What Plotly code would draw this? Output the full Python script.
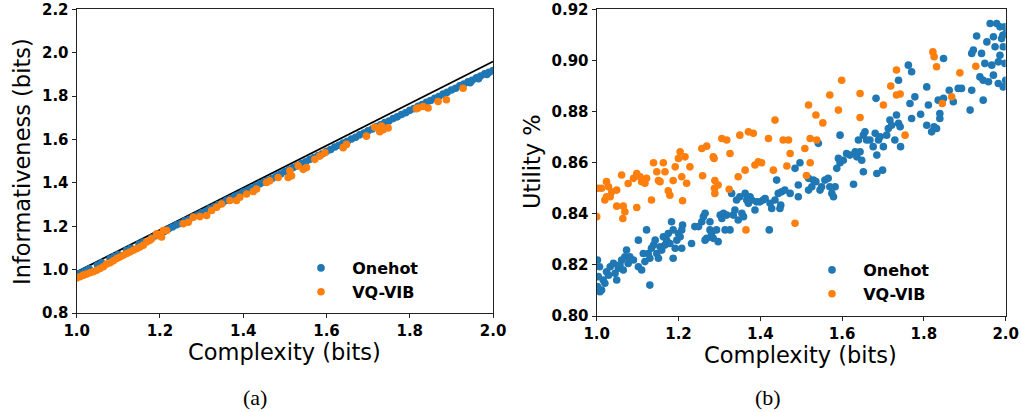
import plotly.graph_objects as go

# ---------------- data: panel (a) ----------------
ref_line_x = [1.0, 2.0]
ref_line_y = [0.99, 1.96]

a_onehot_x = [1.00, 1.01, 1.02, 1.03, 1.05, 1.06, 1.08, 1.09, 1.10, 1.12, 1.13, 1.15, 1.16, 1.18,
              1.19, 1.21, 1.22, 1.23, 1.24, 1.25, 1.26, 1.27, 1.28, 1.29, 1.30, 1.31, 1.32, 1.33,
              1.34, 1.35, 1.36, 1.37, 1.38, 1.39, 1.40, 1.41, 1.42, 1.43, 1.44, 1.45, 1.46, 1.47,
              1.48, 1.49, 1.50, 1.51, 1.52, 1.53, 1.54, 1.55, 1.56, 1.57, 1.58, 1.59, 1.60, 1.61,
              1.62, 1.63, 1.64, 1.65, 1.66, 1.67, 1.68, 1.69, 1.70, 1.71, 1.72, 1.73, 1.74, 1.75,
              1.76, 1.77, 1.78, 1.79, 1.80, 1.81, 1.82, 1.83, 1.84, 1.85, 1.86, 1.87, 1.88, 1.89,
              1.90, 1.91, 1.92, 1.93, 1.94, 1.95, 1.96, 1.97, 1.98, 1.99, 2.00, 1.985, 1.965, 1.945]
a_onehot_y = [0.975, 0.985, 0.994, 1.004, 1.022, 1.032, 1.051, 1.061, 1.070, 1.090, 1.099, 1.118, 1.128, 1.147,
              1.157, 1.176, 1.188, 1.197, 1.207, 1.214, 1.226, 1.233, 1.244, 1.252, 1.263, 1.270, 1.282, 1.290,
              1.301, 1.309, 1.320, 1.328, 1.339, 1.347, 1.358, 1.366, 1.377, 1.385, 1.396, 1.404, 1.414, 1.422,
              1.433, 1.441, 1.453, 1.461, 1.471, 1.479, 1.490, 1.498, 1.509, 1.517, 1.527, 1.535, 1.546, 1.554,
              1.566, 1.574, 1.584, 1.592, 1.603, 1.611, 1.622, 1.630, 1.641, 1.649, 1.660, 1.668, 1.679, 1.686,
              1.697, 1.705, 1.716, 1.724, 1.735, 1.743, 1.754, 1.762, 1.772, 1.780, 1.791, 1.799, 1.810, 1.818,
              1.829, 1.837, 1.848, 1.856, 1.866, 1.874, 1.885, 1.893, 1.904, 1.910, 1.918, 1.900, 1.881, 1.862]

a_vqvib_x = [1.000, 1.008, 1.016, 1.024, 1.032, 1.040, 1.048, 1.056, 1.064, 1.072, 1.080, 1.088, 1.096,
             1.104, 1.112, 1.120, 1.128, 1.136, 1.144, 1.152, 1.160, 1.168, 1.176, 1.180, 1.192, 1.196,
             1.204, 1.208, 1.216, 1.256, 1.268, 1.280, 1.296, 1.312, 1.324, 1.336, 1.348, 1.368, 1.384,
             1.392, 1.408, 1.424, 1.432, 1.456, 1.464, 1.484, 1.508, 1.512, 1.516, 1.532, 1.544, 1.552,
             1.572, 1.584, 1.596, 1.640, 1.648, 1.696, 1.716, 1.728, 1.732, 1.736, 1.748, 1.816, 1.820,
             1.832, 1.844, 1.868, 1.888, 1.928]
a_vqvib_y = [0.962, 0.968, 0.975, 0.980, 0.986, 0.991, 0.998, 1.006, 1.014, 1.026, 1.032, 1.041, 1.052,
             1.059, 1.067, 1.075, 1.082, 1.090, 1.097, 1.105, 1.113, 1.128, 1.136, 1.143, 1.166, 1.158,
             1.151, 1.181, 1.181, 1.212, 1.219, 1.242, 1.245, 1.250, 1.273, 1.288, 1.303, 1.319, 1.319,
             1.334, 1.349, 1.361, 1.372, 1.402, 1.410, 1.425, 1.425, 1.456, 1.433, 1.479, 1.463, 1.471,
             1.509, 1.524, 1.540, 1.563, 1.578, 1.616, 1.657, 1.636, 1.662, 1.646, 1.654, 1.742, 1.746,
             1.753, 1.746, 1.776, 1.784, 1.837]

# ---------------- data: panel (b) ----------------
b_onehot_x = [1.002, 1.007, 1.004, 1.008, 1.012, 1.002, 1.016, 1.020, 1.024, 1.029, 1.033, 1.041, 1.045,
              1.049, 1.053, 1.057, 1.061, 1.065, 1.069, 1.073, 1.077, 1.081, 1.090, 1.102, 1.102, 1.110,
              1.114, 1.118, 1.122, 1.126, 1.130, 1.134, 1.139, 1.143, 1.147, 1.151, 1.155, 1.159, 1.163,
              1.167, 1.171, 1.175, 1.179, 1.183, 1.187, 1.187, 1.192, 1.196, 1.200, 1.204, 1.208, 1.208,
              1.210, 1.130, 1.232, 1.240, 1.249, 1.257, 1.261, 1.265, 1.265, 1.269, 1.277, 1.277, 1.281,
              1.285, 1.293, 1.297, 1.302, 1.306, 1.310, 1.314, 1.318, 1.326, 1.330, 1.334, 1.338, 1.342,
              1.346, 1.350, 1.355, 1.359, 1.363, 1.367, 1.371, 1.375, 1.379, 1.387, 1.391, 1.399, 1.407,
              1.412, 1.422, 1.424, 1.428, 1.436, 1.440, 1.444, 1.448, 1.450, 1.452, 1.460, 1.473, 1.485,
              1.493, 1.493, 1.497, 1.518, 1.518, 1.526, 1.530, 1.536, 1.542, 1.546, 1.550, 1.558, 1.566,
              1.570, 1.575, 1.579, 1.583, 1.587, 1.591, 1.595, 1.595, 1.603, 1.611, 1.619, 1.628, 1.632,
              1.636, 1.640, 1.644, 1.648, 1.652, 1.652, 1.656, 1.660, 1.668, 1.676, 1.681, 1.683, 1.685,
              1.685, 1.689, 1.693, 1.699, 1.701, 1.709, 1.713, 1.717, 1.721, 1.729, 1.733, 1.738, 1.738,
              1.742, 1.743, 1.762, 1.770, 1.766, 1.770, 1.778, 1.792, 1.807, 1.807, 1.811, 1.819, 1.825,
              1.831, 1.835, 1.839, 1.839, 1.848, 1.848, 1.862, 1.872, 1.884, 1.892, 1.913, 1.917, 1.921,
              1.917, 1.929, 1.937, 1.941, 1.945, 1.945, 1.949, 1.954, 1.958, 1.962, 1.966, 1.970, 1.970,
              1.974, 1.978, 1.982, 1.986, 1.982, 1.990, 1.993, 1.994, 1.994, 1.998, 1.998, 2.000, 2.000,
              1.986]
b_onehot_y = [0.8219, 0.8193, 0.8154, 0.8095, 0.8102, 0.8115, 0.8141, 0.8128, 0.8173, 0.8160, 0.8193, 0.8206, 0.8167,
              0.8141, 0.8187, 0.8200, 0.8219, 0.8180, 0.8232, 0.8258, 0.8206, 0.8232, 0.8219, 0.8297, 0.8193, 0.8180,
              0.8245, 0.8213, 0.8337, 0.8245, 0.8226, 0.8265, 0.8278, 0.8297, 0.8245, 0.8226, 0.8271, 0.8258, 0.8310,
              0.8278, 0.8297, 0.8323, 0.8284, 0.8369, 0.8226, 0.8337, 0.8265, 0.8297, 0.8323, 0.8310, 0.8337, 0.8265,
              0.8356, 0.8121, 0.8284, 0.8350, 0.8350, 0.8369, 0.8389, 0.8402, 0.8297, 0.8304, 0.8369, 0.8337, 0.8323,
              0.8304, 0.8337, 0.8291, 0.8395, 0.8382, 0.8402, 0.8337, 0.8395, 0.8337, 0.8480, 0.8395, 0.8415, 0.8454,
              0.8376, 0.8467, 0.8402, 0.8389, 0.8480, 0.8454, 0.8441, 0.8467, 0.8454, 0.8415, 0.8447, 0.8447, 0.8454,
              0.8460, 0.8337, 0.8441, 0.8421, 0.8454, 0.8532, 0.8480, 0.8421, 0.8434, 0.8486, 0.8493, 0.8480, 0.8578,
              0.8513, 0.8467, 0.8600, 0.8539, 0.8493, 0.8506, 0.8532, 0.8526, 0.8676, 0.8493, 0.8506, 0.8532, 0.8539,
              0.8506, 0.8480, 0.8467, 0.8506, 0.8578, 0.8617, 0.8600, 0.8708, 0.8610, 0.8636, 0.8630, 0.8516, 0.8643,
              0.8623, 0.8689, 0.8643, 0.8610, 0.8565, 0.8708, 0.8721, 0.8689, 0.8689, 0.8663, 0.8715, 0.8852, 0.8630,
              0.8558, 0.8689, 0.8702, 0.8571, 0.8663, 0.8708, 0.8734, 0.8767, 0.8747, 0.8689, 0.8787, 0.8923, 0.8754,
              0.8741, 0.8663, 0.8982, 0.8956, 0.8832, 0.8773, 0.8858, 0.8790, 0.8897, 0.8747, 0.8826, 0.8721, 0.8741,
              0.8734, 0.8845, 0.8793, 0.8773, 0.9008, 0.8852, 0.8884, 0.8839, 0.8891, 0.8891, 0.8806, 0.9028, 0.9041,
              0.8884, 0.9096, 0.8936, 0.9028, 0.8845, 0.8923, 0.8989, 0.9073, 0.8917, 0.9145, 0.8982, 0.8943, 0.9093,
              0.9054, 0.9145, 0.8995, 0.9021, 0.8910, 0.9086, 0.9099, 0.9054, 0.8897, 0.8989, 0.9132, 0.9106, 0.8923,
              0.9132]

b_vqvib_x = [1.000, 1.004, 1.012, 1.024, 1.029, 1.024, 1.020, 1.033, 1.037, 1.049, 1.049, 1.065, 1.069,
             1.064, 1.061, 1.077, 1.090, 1.098, 1.106, 1.110, 1.118, 1.122, 1.098, 1.139, 1.134, 1.147,
             1.151, 1.155, 1.163, 1.167, 1.175, 1.179, 1.187, 1.192, 1.200, 1.204, 1.208, 1.216, 1.220,
             1.210, 1.228, 1.257, 1.269, 1.259, 1.285, 1.287, 1.289, 1.288, 1.289, 1.297, 1.306, 1.318,
             1.326, 1.324, 1.346, 1.350, 1.363, 1.371, 1.383, 1.387, 1.395, 1.403, 1.365, 1.420, 1.432,
             1.436, 1.456, 1.469, 1.465, 1.473, 1.485, 1.509, 1.513, 1.518, 1.522, 1.522, 1.536, 1.538,
             1.553, 1.570, 1.591, 1.599, 1.644, 1.644, 1.701, 1.719, 1.733, 1.733, 1.742, 1.754, 1.822,
             1.825, 1.831, 1.845, 1.868, 1.888, 1.927]
b_vqvib_y = [0.8389, 0.8500, 0.8500, 0.8526, 0.8506, 0.8467, 0.8454, 0.8467, 0.8486, 0.8493, 0.8430, 0.8430, 0.8408,
             0.8382, 0.8552, 0.8519, 0.8539, 0.8558, 0.8545, 0.8526, 0.8520, 0.8539, 0.8425, 0.8600, 0.8454, 0.8565,
             0.8530, 0.8526, 0.8600, 0.8565, 0.8490, 0.8473, 0.8530, 0.8584, 0.8617, 0.8643, 0.8545, 0.8623, 0.8520,
             0.8451, 0.8584, 0.8656, 0.8665, 0.8549, 0.8623, 0.8617, 0.8530, 0.8500, 0.8480, 0.8513, 0.8695, 0.8689,
             0.8636, 0.8496, 0.8545, 0.8708, 0.8571, 0.8721, 0.8715, 0.8591, 0.8604, 0.8600, 0.8337, 0.8695, 0.8571,
             0.8767, 0.8689, 0.8689, 0.8587, 0.8636, 0.8363, 0.8656, 0.8550, 0.8826, 0.8695, 0.8600, 0.8787, 0.8689,
             0.8756, 0.8865, 0.8806, 0.8923, 0.8871, 0.8777, 0.8826, 0.8900, 0.8963, 0.8865, 0.8869, 0.8708, 0.9034,
             0.9015, 0.8976, 0.8832, 0.8858, 0.8952, 0.8978]

series_names = ["Onehot", "VQ-VIB"]
series_colors = ["#1f77b4", "#ff7f0e"]

x_ticks = [1.0, 1.2, 1.4, 1.6, 1.8, 2.0]
a_y_ticks = [0.8, 1.0, 1.2, 1.4, 1.6, 1.8, 2.0, 2.2]
b_y_ticks = [0.80, 0.82, 0.84, 0.86, 0.88, 0.90, 0.92]

# ---------------- figure ----------------
W, H = 1021, 412
fig = go.Figure()
MS = 7.6

fig.add_trace(go.Scatter(x=ref_line_x, y=ref_line_y, mode="lines",
                         line=dict(color="black", width=1.8), showlegend=False,
                         xaxis="x", yaxis="y"))
fig.add_trace(go.Scatter(x=a_onehot_x, y=a_onehot_y, mode="markers", name="\u00a0\u00a0" + series_names[0],
                         marker=dict(color=series_colors[0], size=MS, line=dict(width=0)),
                         xaxis="x", yaxis="y", legend="legend"))
fig.add_trace(go.Scatter(x=a_vqvib_x, y=a_vqvib_y, mode="markers", name="\u00a0\u00a0" + series_names[1],
                         marker=dict(color=series_colors[1], size=MS, line=dict(width=0)),
                         xaxis="x", yaxis="y", legend="legend"))
fig.add_trace(go.Scatter(x=b_onehot_x, y=b_onehot_y, mode="markers", name="\u00a0\u00a0" + series_names[0],
                         marker=dict(color=series_colors[0], size=MS, line=dict(width=0)),
                         xaxis="x2", yaxis="y2", legend="legend2"))
fig.add_trace(go.Scatter(x=b_vqvib_x, y=b_vqvib_y, mode="markers", name="\u00a0\u00a0" + series_names[1],
                         marker=dict(color=series_colors[1], size=MS, line=dict(width=0)),
                         xaxis="x2", yaxis="y2", legend="legend2"))

tickfont = dict(family="DejaVu Sans", size=15, color="black", weight="bold")
titlefont = dict(family="DejaVu Sans", size=22.5, color="black")
axis_common = dict(showline=True, mirror=True, linecolor="#222", linewidth=1.2,
                   ticks="outside", ticklen=4, tickwidth=1.2, tickcolor="#222",
                   showgrid=False, zeroline=False, tickfont=tickfont, automargin=False,
                   ticklabeloverflow="allow")

legend_font = dict(family="DejaVu Sans", size=16, color="black", weight="bold")


def ann(text, x, y, font, angle=0):
    return dict(text=text, x=x / W, y=1 - y / H, xref="paper", yref="paper", showarrow=False,
                font=font, xanchor="center", yanchor="middle", textangle=angle)


caption_font = dict(family="Liberation Serif", size=22, color="black")

fig.update_layout(
    width=W, height=H,
    margin=dict(l=0, r=0, t=0, b=0, autoexpand=False),
    paper_bgcolor="white", plot_bgcolor="white",
    xaxis=dict(domain=[0.0751, 0.4829], range=[1.0, 2.0], tickvals=x_ticks, tickformat=".1f",
               anchor="y", **axis_common),
    yaxis=dict(domain=[0.240, 0.977], range=[0.8, 2.2], tickvals=a_y_ticks, tickformat=".1f",
               anchor="x", **axis_common),
    xaxis2=dict(domain=[0.5844, 0.985], range=[1.0, 2.0], tickvals=x_ticks, tickformat=".1f",
                anchor="y2", **axis_common),
    yaxis2=dict(domain=[0.233, 0.977], range=[0.80, 0.92], tickvals=b_y_ticks, tickformat=".2f",
                anchor="x2", **axis_common),
    legend=dict(x=301 / W, y=1 - 251 / H, xanchor="left", yanchor="top", bgcolor="rgba(0,0,0,0)",
                font=legend_font, itemsizing="trace"),
    legend2=dict(x=812 / W, y=1 - 253 / H, xanchor="left", yanchor="top", bgcolor="rgba(0,0,0,0)",
                 font=legend_font, itemsizing="trace"),
    annotations=[
        ann("Complexity (bits)", 284, 352, titlefont),
        ann("Complexity (bits)", 800, 355, titlefont),
        ann("Informativeness (bits)", 22, 162, titlefont, -90),
        ann("Utility %", 532, 162, titlefont, -90),
        ann("(a)", 255, 397, caption_font),
        ann("(b)", 768, 397, caption_font),
    ],
)

fig.write_html("out.html")
